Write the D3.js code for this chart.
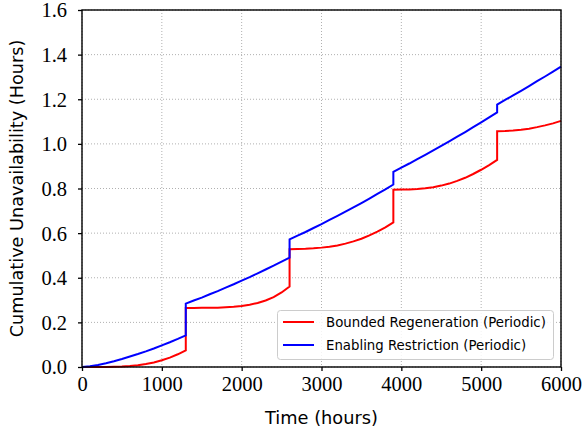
<!DOCTYPE html>
<html>
<head>
<meta charset="utf-8">
<script src="https://cdn.jsdelivr.net/npm/d3@7"></script>
<style>
html,body{margin:0;padding:0;background:#fff;}
svg{display:block;}
</style>
</head>
<body>
<svg id="chart" width="583" height="436"></svg>
<script>
// ---- data ----
const seriesNames = ["Bounded Regeneration (Periodic)", "Enabling Restriction (Periodic)"];
const seriesColors = ["#ff0000", "#0000ff"];
const xTicks = [0, 1000, 2000, 3000, 4000, 5000, 6000];
const yTicks = [0.0, 0.2, 0.4, 0.6, 0.8, 1.0, 1.2, 1.4, 1.6];

// time (hours) – duplicated times mark the periodic jumps
const timeHours = [
  0,100,200,300,400,500,600,700,800,900,1000,1100,1200,1300,
  1300,1400,1500,1600,1700,1800,1900,2000,2100,2200,2300,2400,2500,2600,
  2600,2700,2800,2900,3000,3100,3200,3300,3400,3500,3600,3700,3800,3900,
  3900,4000,4100,4200,4300,4400,4500,4600,4700,4800,4900,5000,5100,5200,
  5200,5300,5400,5500,5600,5700,5800,5900,6000
];
const boundedRegeneration = [
  0,0,0,0.0005,0.001,0.002,0.004,0.008,0.013,0.020,0.030,0.042,0.057,0.074,
  0.264,0.264,0.265,0.265,0.266,0.268,0.270,0.273,0.279,0.287,0.298,0.313,0.334,0.361,
  0.528,0.529,0.530,0.532,0.535,0.539,0.545,0.553,0.563,0.575,0.590,0.607,0.626,0.648,
  0.794,0.795,0.796,0.798,0.801,0.806,0.813,0.822,0.834,0.848,0.865,0.884,0.905,0.928,
  1.057,1.058,1.060,1.063,1.068,1.075,1.083,1.092,1.103
];
const enablingRestriction = [
  0,0.003,0.009,0.017,0.026,0.036,0.047,0.058,0.070,0.083,0.097,0.111,0.126,0.142,
  0.284,0.298,0.311,0.326,0.340,0.356,0.371,0.387,0.403,0.420,0.437,0.454,0.472,0.490,
  0.572,0.589,0.605,0.623,0.640,0.659,0.677,0.696,0.715,0.735,0.755,0.776,0.796,0.818,
  0.875,0.894,0.912,0.932,0.951,0.971,0.991,1.011,1.032,1.053,1.075,1.096,1.119,1.141,
  1.176,1.197,1.217,1.238,1.259,1.281,1.302,1.324,1.346
];
const xLabel = "Time (hours)";
const yLabel = "Cumulative Unavailability (Hours)";

// ---- layout ----
const svg = d3.select("#chart");
const L = 82, R = 561, T = 10, B = 367;
const x = d3.scaleLinear().domain([0, 6000]).range([L, R]);
const y = d3.scaleLinear().domain([0, 1.6]).range([B, T]);
const serif = "'Liberation Serif','DejaVu Serif',serif";
const sans = "'DejaVu Sans','Open Sans',sans-serif";

// grid
const grid = svg.append("g");
grid.selectAll("line.gx").data(xTicks).join("line")
  .attr("x1", d => x(d)).attr("x2", d => x(d)).attr("y1", T).attr("y2", B)
  .attr("stroke", "#b0b0b0").attr("stroke-width", 1).attr("stroke-dasharray", "1,2");
grid.selectAll("line.gy").data(yTicks).join("line")
  .attr("y1", d => y(d)).attr("y2", d => y(d)).attr("x1", L).attr("x2", R)
  .attr("stroke", "#b0b0b0").attr("stroke-width", 1).attr("stroke-dasharray", "1,2");

// lines
const series = [boundedRegeneration, enablingRestriction];
const line = d3.line().x((d, i) => x(timeHours[i])).y(d => y(d));
series.forEach((vals, k) => {
  svg.append("path").datum(vals)
    .attr("d", line)
    .attr("fill", "none")
    .attr("stroke", seriesColors[k])
    .attr("stroke-width", 2)
    .attr("stroke-linejoin", "miter");
});

// axes
const xAxis = d3.axisBottom(x).tickValues(xTicks).tickFormat(d3.format("d")).tickSize(4).tickPadding(4);
const yAxis = d3.axisLeft(y).tickValues(yTicks).tickFormat(d3.format(".1f")).tickSize(4).tickPadding(11);
const gx = svg.append("g").attr("transform", `translate(0,${B})`).call(xAxis);
const gy = svg.append("g").attr("transform", `translate(${L},0)`).call(yAxis);
[gx, gy].forEach(g => {
  g.select(".domain").remove();
  g.selectAll(".tick line").attr("stroke", "#000").attr("stroke-width", 1.3);
  g.selectAll(".tick text").attr("font-family", serif).attr("font-size", 20.5).attr("fill", "#000");
});
gx.selectAll(".tick text").attr("dy", "0.78em");
gy.selectAll(".tick text").attr("dy", "0.34em");

// frame
svg.append("rect").attr("x", L).attr("y", T).attr("width", R - L).attr("height", B - T)
  .attr("fill", "none").attr("stroke", "#000").attr("stroke-width", 1.4);

// axis titles
const xt = svg.append("text").attr("x", (L + R) / 2).attr("y", 424)
  .attr("text-anchor", "middle").attr("font-family", sans).attr("font-size", 17)
  .attr("fill", "#000").text(xLabel);
const yt = svg.append("text").attr("transform", `translate(23,${(T + B) / 2}) rotate(-90)`)
  .attr("text-anchor", "middle").attr("font-family", sans).attr("font-size", 17)
  .attr("fill", "#000").text(yLabel);

// legend
const lg = svg.append("g");
lg.append("rect").attr("x", 277.5).attr("y", 310.5).attr("width", 276).attr("height", 49)
  .attr("rx", 3).attr("fill", "#fff").attr("fill-opacity", 0.85)
  .attr("stroke", "#cccccc").attr("stroke-width", 1);
const legTexts = seriesNames.map((name, k) => {
  const yy = 322 + k * 23;
  lg.append("line").attr("x1", 283).attr("x2", 314).attr("y1", yy).attr("y2", yy)
    .attr("stroke", seriesColors[k]).attr("stroke-width", 2);
  return lg.append("text").attr("x", 326).attr("y", yy).attr("dy", "0.36em")
    .attr("font-family", sans).attr("font-size", 15).attr("fill", "#000").text(name);
});

// fit title widths to the reference
function fit(sel, w) {
  const len = sel.node().getComputedTextLength();
  const fs = parseFloat(sel.attr("font-size"));
  const nfs = fs * w / len;
  sel.attr("font-size", nfs);
  return nfs;
}
fit(xt, 113);
fit(yt, 298);
const legFs = fit(legTexts[0], 220);
legTexts.forEach(t => t.attr("font-size", legFs));
</script>
</body>
</html>
